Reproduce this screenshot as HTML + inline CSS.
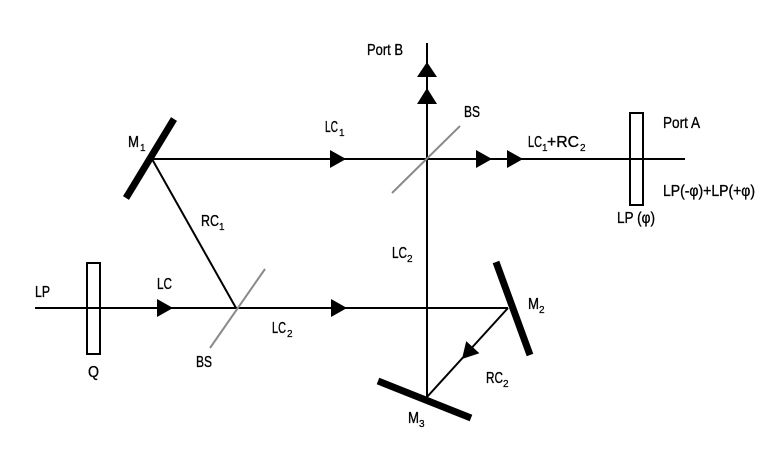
<!DOCTYPE html>
<html>
<head>
<meta charset="utf-8">
<style>
  html, body { margin: 0; padding: 0; background: #ffffff; }
  svg { display: block; }
  text { font-family: "Liberation Sans Narrow", "Liberation Sans", sans-serif; fill: #000; stroke: #000; stroke-width: 0.35px; }
  .m { font-size: 16px; }
  .s { font-size: 10px; stroke-width: 0.25px; }
</style>
</head>
<body>
<svg width="780" height="450" viewBox="0 0 780 450" xmlns="http://www.w3.org/2000/svg">
  <rect x="0" y="0" width="780" height="450" fill="#ffffff"/>

  <!-- beam lines -->
  <g stroke="#000" stroke-width="2" fill="none">
    <line x1="152" y1="159" x2="685" y2="159"/>
    <line x1="427" y1="43" x2="427" y2="397"/>
    <line x1="35" y1="308" x2="508" y2="308"/>
    <line x1="152" y1="159" x2="236" y2="308"/>
    <line x1="508" y1="308" x2="427" y2="397"/>
  </g>

  <!-- beam splitters (gray) -->
  <g stroke="#8a8a8a" stroke-width="2">
    <line x1="460" y1="126" x2="392" y2="193"/>
    <line x1="265" y1="269" x2="210" y2="348"/>
  </g>

  <!-- mirrors -->
  <g stroke="#000" stroke-width="7" stroke-linecap="butt">
    <line x1="174" y1="119" x2="126" y2="198"/>
    <line x1="496" y1="262" x2="530" y2="355"/>
    <line x1="378" y1="381" x2="471" y2="418"/>
  </g>

  <!-- wave plates -->
  <rect x="87" y="263" width="13" height="91" fill="none" stroke="#000" stroke-width="2"/>
  <rect x="630" y="113" width="13" height="92" fill="none" stroke="#000" stroke-width="2"/>

  <!-- arrowheads -->
  <g fill="#000">
    <polygon points="157,299 173,308 157,317"/>
    <polygon points="330,150 346,159 330,168"/>
    <polygon points="331,299 347,308 331,317"/>
    <polygon points="476,150 492,159 476,168"/>
    <polygon points="507,150 523,159 507,168"/>
    <polygon points="427,62 437,77 417,77"/>
    <polygon points="427,88 437,104 417,104"/>
    <polygon points="462,359 479.4,353.3 466.2,341.1"/>
  </g>

  <!-- labels -->
  <text class="m" x="128" y="147" textLength="11" lengthAdjust="spacingAndGlyphs">M</text>
  <text class="s" x="140" y="151">1</text>

  <text class="m" x="325" y="132" textLength="13" lengthAdjust="spacingAndGlyphs">LC</text>
  <text class="s" x="339" y="136">1</text>

  <text class="m" x="367" y="55" textLength="36" lengthAdjust="spacingAndGlyphs">Port B</text>
  <text class="m" x="464" y="117" textLength="16" lengthAdjust="spacingAndGlyphs">BS</text>

  <text class="m" x="528" y="147" textLength="14" lengthAdjust="spacingAndGlyphs">LC</text>
  <text class="s" x="542" y="151">1</text>
  <text class="m" x="547" y="147" textLength="32" lengthAdjust="spacingAndGlyphs">+RC</text>
  <text class="s" x="580" y="151">2</text>

  <text class="m" x="663" y="128" textLength="37" lengthAdjust="spacingAndGlyphs">Port A</text>
  <text class="m" x="663" y="196" textLength="92" lengthAdjust="spacingAndGlyphs">LP(-φ)+LP(+φ)</text>
  <text class="m" x="617" y="223" textLength="38" lengthAdjust="spacingAndGlyphs">LP (φ)</text>

  <text class="m" x="201" y="226" textLength="18" lengthAdjust="spacingAndGlyphs">RC</text>
  <text class="s" x="219" y="230">1</text>

  <text class="m" x="392" y="258" textLength="15" lengthAdjust="spacingAndGlyphs">LC</text>
  <text class="s" x="407" y="262">2</text>

  <text class="m" x="35" y="297" textLength="15" lengthAdjust="spacingAndGlyphs">LP</text>
  <text class="m" x="157" y="289" textLength="15" lengthAdjust="spacingAndGlyphs">LC</text>

  <text class="m" x="272" y="333" textLength="14" lengthAdjust="spacingAndGlyphs">LC</text>
  <text class="s" x="287" y="337">2</text>

  <text class="m" x="196" y="367" textLength="16" lengthAdjust="spacingAndGlyphs">BS</text>
  <text class="m" x="88" y="377" textLength="11" lengthAdjust="spacingAndGlyphs">Q</text>

  <text class="m" x="528" y="309" textLength="11" lengthAdjust="spacingAndGlyphs">M</text>
  <text class="s" x="539" y="313">2</text>

  <text class="m" x="486" y="383" textLength="17" lengthAdjust="spacingAndGlyphs">RC</text>
  <text class="s" x="503" y="387">2</text>

  <text class="m" x="408" y="423" textLength="11" lengthAdjust="spacingAndGlyphs">M</text>
  <text class="s" x="419" y="427">3</text>
</svg>
</body>
</html>
